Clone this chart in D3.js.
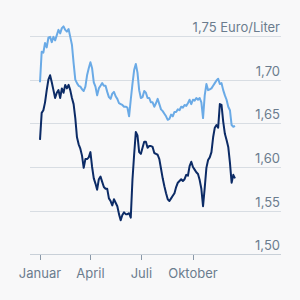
<!DOCTYPE html>
<html>
  <head>
    <meta charset="utf-8">
    <script src="https://d3js.org/d3.v7.min.js"></script>
    <style>
      body { margin: 0; background: #f8f8f9; }
      svg { display: block; font-family: Inter, "Noto Sans", sans-serif; }
    </style>
  </head>
  <body>
    <script type="text/javascript">
      // one reading every three days, starting on 1 January
      var startDate = "2023-01-01";
      var stepDays = 3;

      // upper line (light blue), Euro per litre
      var super95 = [
        1.697, 1.732, 1.731, 1.742, 1.737, 1.748, 1.749, 1.743, 1.749, 1.745,
        1.751, 1.757, 1.753, 1.759, 1.761, 1.757, 1.755, 1.758, 1.749, 1.740,
        1.719, 1.700, 1.696, 1.693, 1.692, 1.689, 1.687, 1.692, 1.705, 1.713,
        1.720, 1.713, 1.697, 1.692, 1.682, 1.690, 1.693, 1.696, 1.693, 1.693,
        1.686, 1.680, 1.678, 1.684, 1.686, 1.681, 1.678, 1.673, 1.672, 1.671,
        1.669, 1.669, 1.668, 1.658, 1.677, 1.695, 1.711, 1.718, 1.708, 1.688,
        1.679, 1.680, 1.687, 1.685, 1.679, 1.679, 1.674, 1.674, 1.669, 1.673,
        1.678, 1.672, 1.666, 1.664, 1.661, 1.658, 1.654, 1.655, 1.660, 1.658,
        1.663, 1.663, 1.666, 1.665, 1.669, 1.668, 1.671, 1.670, 1.673, 1.677,
        1.672, 1.677, 1.676, 1.679, 1.677, 1.679, 1.674, 1.656, 1.682, 1.695,
        1.688, 1.689, 1.690, 1.693, 1.696, 1.699, 1.701, 1.695, 1.696, 1.688,
        1.682, 1.677, 1.669, 1.665, 1.648, 1.646, 1.647
      ];

      // lower line (dark blue)
      var diesel = [
        1.631, 1.662, 1.665, 1.674, 1.688, 1.700, 1.705, 1.697, 1.688, 1.679,
        1.685, 1.688, 1.679, 1.690, 1.685, 1.694, 1.690, 1.694, 1.688, 1.679,
        1.672, 1.656, 1.634, 1.626, 1.621, 1.613, 1.599, 1.609, 1.609, 1.611,
        1.617, 1.600, 1.587, 1.581, 1.574, 1.586, 1.589, 1.583, 1.577, 1.575,
        1.575, 1.564, 1.561, 1.556, 1.563, 1.559, 1.555, 1.546, 1.539, 1.545,
        1.548, 1.546, 1.546, 1.547, 1.542, 1.585, 1.614, 1.640, 1.636, 1.617,
        1.615, 1.622, 1.629, 1.629, 1.622, 1.624, 1.624, 1.623, 1.616, 1.615,
        1.614, 1.609, 1.598, 1.587, 1.578, 1.570, 1.563, 1.561, 1.564, 1.567,
        1.570, 1.577, 1.582, 1.584, 1.586, 1.584, 1.586, 1.591, 1.590, 1.601,
        1.606, 1.600, 1.597, 1.594, 1.592, 1.585, 1.575, 1.555, 1.576, 1.599,
        1.608, 1.611, 1.617, 1.634, 1.645, 1.648, 1.645, 1.672, 1.671, 1.652,
        1.638, 1.631, 1.623, 1.605, 1.582, 1.591, 1.587
      ];

      var yTicks = [1.50, 1.55, 1.60, 1.65, 1.70, 1.75];
      var xTicks = ["2023-01-01", "2023-04-01", "2023-07-01", "2023-10-01"];
      var xTickLabels = ["Januar", "April", "Juli", "Oktober"];
      var unit = " Euro/Liter";

      var width = 300,
          height = 300;

      var parse = d3.timeParse("%Y-%m-%d");
      var t0 = parse(startDate);
      var dates = super95.map(function(d, i) { return d3.timeDay.offset(t0, i * stepDays); });

      var x = d3.scaleTime()
          .domain([t0, parse("2024-01-01")])
          .range([40, 244.5]);

      var y = d3.scaleLinear()
          .domain([1.50, 1.75])
          .range([254.3, 36]);

      var svg = d3.select("body")
        .append("svg")
          .attr("width", width)
          .attr("height", height);

      var fmt = function(v) { return d3.format(".2f")(v).replace(".", ","); };

      // horizontal grid
      var grid = svg.append("g").attr("class", "grid");
      grid.selectAll("line")
          .data(yTicks)
          .enter()
          .append("line")
          .attr("x1", 30)
          .attr("x2", 281)
          .attr("y1", function(d) { return Math.round(y(d)) + 0.5; })
          .attr("y2", function(d) { return Math.round(y(d)) + 0.5; })
          .attr("stroke", function(d) { return d === 1.50 ? "#c9d0d8" : "#d8dde3"; })
          .attr("stroke-width", 1);

      grid.selectAll("text")
          .data(yTicks.filter(function(d) { return d > 1.50 || true; }))
          .enter()
          .append("text")
          .attr("x", 280)
          .attr("y", function(d) { return Math.round(y(d)) - 4; })
          .attr("text-anchor", "end")
          .style("font-size", "13px")
          .style("fill", "#6b7c8e")
          .text(function(d) { return fmt(d) + (d === 1.75 ? unit : ""); });

      // x axis ticks and labels
      var xg = svg.append("g").attr("class", "xaxis");
      xg.selectAll("line")
          .data(xTicks)
          .enter()
          .append("line")
          .attr("x1", function(d) { return Math.round(x(parse(d))) + 0.5; })
          .attr("x2", function(d) { return Math.round(x(parse(d))) + 0.5; })
          .attr("y1", 255)
          .attr("y2", 260)
          .attr("stroke", "#8a98a8")
          .attr("stroke-width", 1);

      xg.selectAll("text")
          .data(xTicks)
          .enter()
          .append("text")
          .attr("x", function(d) { return x(parse(d)); })
          .attr("y", 278)
          .attr("text-anchor", "middle")
          .style("font-size", "13px")
          .style("fill", "#6b7c8e")
          .text(function(d, i) { return xTickLabels[i]; });

      // lines
      var line = d3.line()
          .x(function(d, i) { return x(dates[i]); })
          .y(function(d) { return y(d); });

      svg.append("path")
          .datum(super95)
          .attr("fill", "none")
          .attr("stroke", "#6aaae6")
          .attr("stroke-width", 2)
          .attr("stroke-linejoin", "round")
          .attr("d", line);

      svg.append("path")
          .datum(diesel)
          .attr("fill", "none")
          .attr("stroke", "#0c2b66")
          .attr("stroke-width", 2)
          .attr("stroke-linejoin", "round")
          .attr("d", line);
    </script>
  </body>
</html>
